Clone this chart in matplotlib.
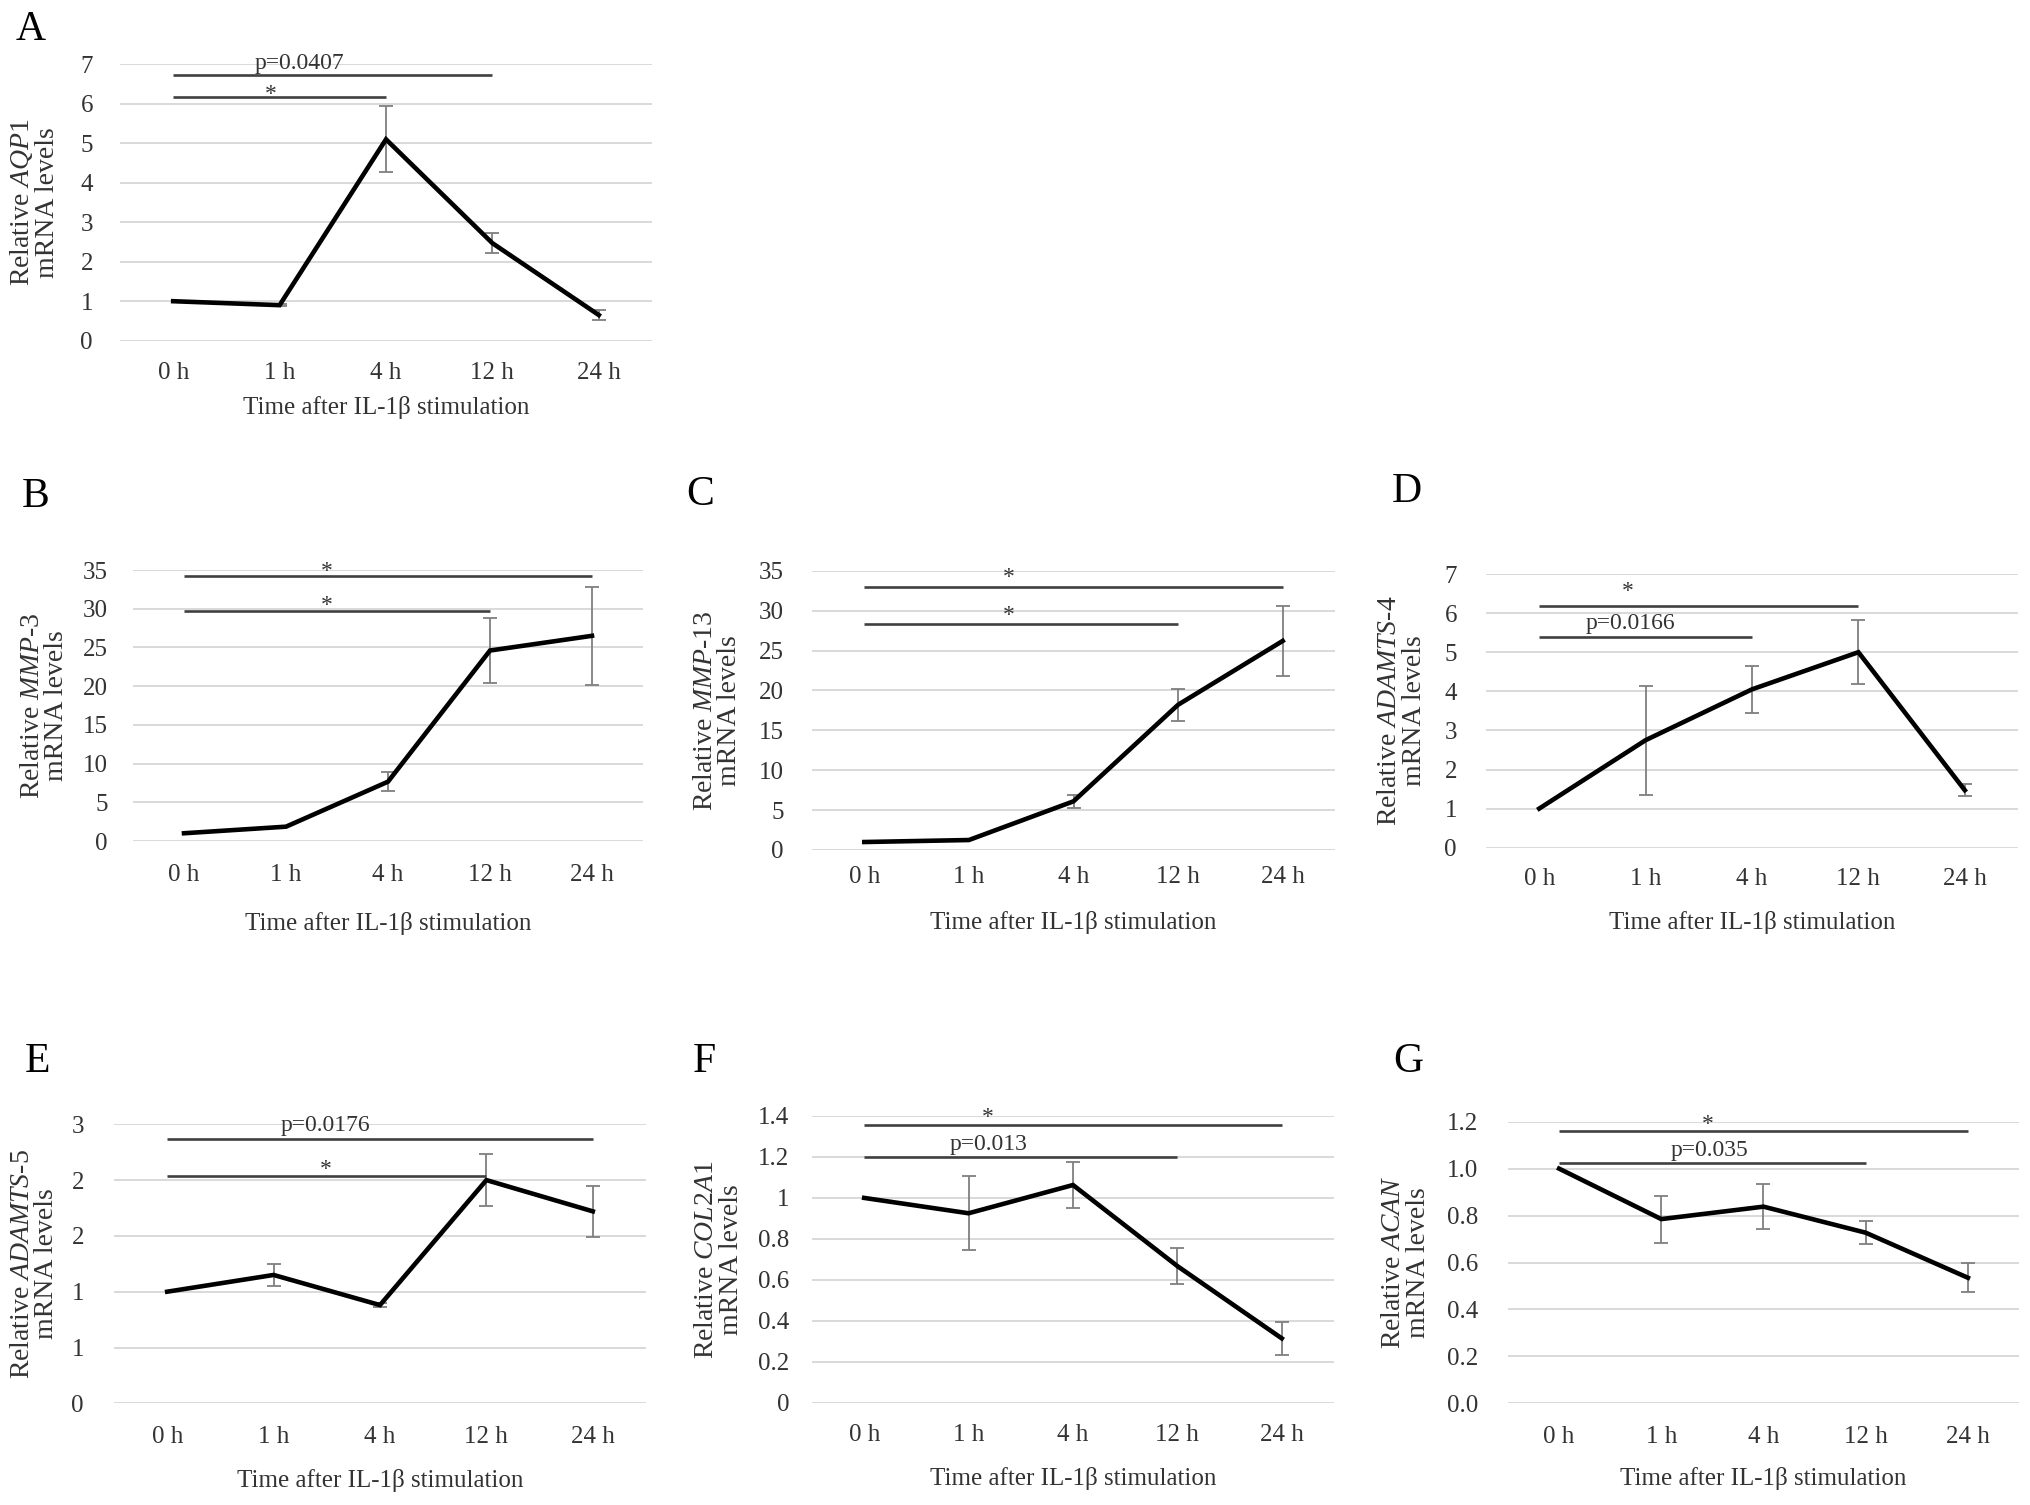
import matplotlib
matplotlib.use("Agg")
import matplotlib.pyplot as plt

plt.rcParams['font.family'] = ['Liberation Serif', 'DejaVu Serif']
plt.rcParams['mathtext.fontset'] = 'custom'
plt.rcParams['mathtext.rm'] = 'Liberation Serif'
plt.rcParams['mathtext.it'] = 'Liberation Serif:italic'

# ---- data ----
times = ['0 h', '1 h', '4 h', '12 h', '24 h']

aqp1_mean = [1.0, 0.90, 5.10, 2.47, 0.65]
aqp1_err = [0, 0.03, 0.84, 0.25, 0.12]

mmp3_mean = [1.0, 1.85, 7.66, 24.6, 26.5]
mmp3_err = [0, 0, 1.25, 4.2, 6.3]

mmp13_mean = [1.0, 1.25, 6.1, 18.2, 26.2]
mmp13_err = [0, 0, 0.8, 2.0, 4.4]

adamts4_mean = [1.0, 2.75, 4.05, 5.0, 1.47]
adamts4_err = [0, 1.39, 0.6, 0.82, 0.16]

adamts5_mean = [1.0, 1.15, 0.88, 2.0, 1.72]
adamts5_err = [0, 0.1, 0.02, 0.23, 0.23]

col2a1_mean = [1.0, 0.925, 1.063, 0.667, 0.314]
col2a1_err = [0, 0.18, 0.11, 0.086, 0.08]

acan_mean = [1.0, 0.785, 0.838, 0.727, 0.535]
acan_err = [0, 0.10, 0.095, 0.05, 0.062]

# y ticks and their printed labels (Excel-style rounding in E)
aqp1_ticks = [0, 1, 2, 3, 4, 5, 6, 7]
mmp_ticks = [0, 5, 10, 15, 20, 25, 30, 35]
adamts4_ticks = [0, 1, 2, 3, 4, 5, 6, 7]
adamts5_ticks = [0, 0.5, 1.0, 1.5, 2.0, 2.5]
adamts5_ticklabels = ['0', '1', '1', '2', '2', '3']
col2a1_ticks = [0, 0.2, 0.4, 0.6, 0.8, 1.0, 1.2, 1.4]
col2a1_ticklabels = ['0', '0.2', '0.4', '0.6', '0.8', '1', '1.2', '1.4']
acan_ticks = [0, 0.2, 0.4, 0.6, 0.8, 1.0, 1.2]
acan_ticklabels = ['0.0', '0.2', '0.4', '0.6', '0.8', '1.0', '1.2']

# significance bars: (from, to, bar height, text)
aqp1_sig = [(0, 3, 6.73, 'p=0.0407'), (0, 2, 6.16, '*')]
mmp3_sig = [(0, 4, 34.27, '*'), (0, 3, 29.75, '*')]
mmp13_sig = [(0, 4, 32.9, '*'), (0, 3, 28.3, '*')]
adamts4_sig = [(0, 3, 6.18, '*'), (0, 2, 5.40, 'p=0.0166')]
adamts5_sig = [(0, 4, 2.37, 'p=0.0176'), (0, 3, 2.04, '*')]
col2a1_sig = [(0, 4, 1.356, '*'), (0, 3, 1.201, 'p=0.013')]
acan_sig = [(0, 4, 1.162, '*'), (0, 3, 1.022, 'p=0.035')]

# where the annotation text sits (x in category units, y = glyph centre)
aqp1_txt = [(1.19, 7.07), (0.92, 6.39)]
mmp3_txt = [(1.40, 35.6), (1.40, 31.3)]
mmp13_txt = [(1.38, 34.9), (1.38, 30.2)]
adamts4_txt = [(0.83, 6.72), (0.855, 5.78)]
adamts5_txt = [(1.49, 2.51), (1.49, 2.15)]
col2a1_txt = [(1.18, 1.426), (1.19, 1.27)]
acan_txt = [(1.45, 1.217), (1.47, 1.086)]

# ---- layout (pixels of the 2031x1505 image) ----
W, H = 2031, 1505
fig = plt.figure(figsize=(W / 100, H / 100), dpi=100)

panels = [
    dict(letter='A', gene='AQP1', mean=aqp1_mean, err=aqp1_err, ticks=aqp1_ticks,
         labels=[str(t) for t in aqp1_ticks], sig=aqp1_sig, txt=aqp1_txt,
         box=(120, 652, 64.3, 340.7), ypad=27, xt=30.3, xl=65, yl=86, pos=(31, 30)),
    dict(letter='B', gene='MMP\u20103', mean=mmp3_mean, err=mmp3_err, ticks=mmp_ticks,
         labels=[str(t) for t in mmp_ticks], sig=mmp3_sig, txt=mmp3_txt,
         box=(133, 643, 570, 841), ypad=25, xt=31.7, xl=80.7, yl=88.7, pos=(36, 497)),
    dict(letter='C', gene='MMP\u201013', mean=mmp13_mean, err=mmp13_err, ticks=mmp_ticks,
         labels=[str(t) for t in mmp_ticks], sig=mmp13_sig, txt=mmp13_txt,
         box=(812, 1335, 570.7, 850), ypad=28, xt=25, xl=70, yl=94.6, pos=(700, 495)),
    dict(letter='D', gene='ADAMTS\u20104', mean=adamts4_mean, err=adamts4_err, ticks=adamts4_ticks,
         labels=[str(t) for t in adamts4_ticks], sig=adamts4_sig, txt=adamts4_txt,
         box=(1486, 2018, 574, 847.7), ypad=29, xt=29, xl=72.3, yl=84, pos=(1407, 492)),
    dict(letter='E', gene='ADAMTS\u20105', mean=adamts5_mean, err=adamts5_err, ticks=adamts5_ticks,
         labels=adamts5_ticklabels, sig=adamts5_sig, txt=adamts5_txt,
         box=(114, 646, 1124.3, 1403.3), ypad=30, xt=31.7, xl=75, yl=79.8, pos=(38, 1062)),
    dict(letter='F', gene='COL2A1', mean=col2a1_mean, err=col2a1_err, ticks=col2a1_ticks,
         labels=col2a1_ticklabels, sig=col2a1_sig, txt=col2a1_txt,
         box=(812, 1334, 1116, 1402.7), ypad=23, xt=30.7, xl=74, yl=93, pos=(704, 1062)),
    dict(letter='G', gene='ACAN', mean=acan_mean, err=acan_err, ticks=acan_ticks,
         labels=acan_ticklabels, sig=acan_sig, txt=acan_txt,
         box=(1508, 2019, 1121.7, 1403.3), ypad=30, xt=31.7, xl=73.3, yl=102, pos=(1408, 1062)),
]

TXT = '#333333'
PT = 0.72  # points per pixel at dpi 100

for p in panels:
    l, r, t, b = p['box']
    ax = fig.add_axes([l / W, 1 - b / H, (r - l) / W, (b - t) / H])
    x = list(range(len(times)))

    # error bars (only where there is one)
    ex = [i for i in x if p['err'][i] > 0]
    ax.errorbar(ex, [p['mean'][i] for i in ex], yerr=[p['err'][i] for i in ex],
                fmt='none', ecolor='#7f7f7f', elinewidth=1.3, capsize=4.8,
                capthick=1.3, zorder=2)
    ax.plot(x, p['mean'], color='black', lw=3.3, zorder=3,
            solid_joinstyle='miter')

    ax.set_xlim(-0.5, len(times) - 0.5)
    ax.set_ylim(0, p['ticks'][-1])
    ax.set_yticks(p['ticks'])
    ax.set_yticklabels(p['labels'])
    ax.set_xticks(x)
    ax.set_xticklabels(times)
    ax.yaxis.grid(True, color='#d9d9d9', lw=1.4)
    ax.set_axisbelow(True)
    for s in ax.spines.values():
        s.set_visible(False)
    ax.tick_params(axis='y', length=0, pad=p['ypad'] * PT, labelsize=18, labelcolor=TXT)
    ax.tick_params(axis='x', length=0, pad=(p['xt'] - 9) * PT, labelsize=18, labelcolor=TXT)

    hpx = b - t
    wpx = r - l
    ax.set_xlabel('Time after IL-1\u03b2 stimulation', fontsize=18, color=TXT, va='center')
    ax.xaxis.set_label_coords(0.5, -(p['xl'] + 2) / hpx)
    ax.set_ylabel('Relative $\\mathit{%s}$\nmRNA levels' % p['gene'], fontsize=20,
                  color=TXT, va='center', ha='center', linespacing=0.95)
    ax.yaxis.set_label_coords(-p['yl'] / wpx, 0.5)

    # significance bars and their text
    for (s0, s1, yb, lab), (tx, ty) in zip(p['sig'], p['txt']):
        ax.plot([s0, s1], [yb, yb], color='#404040', lw=1.9, clip_on=False,
                solid_capstyle='butt', zorder=4)
        off = -12 * PT if lab == '*' else -7.5 * PT
        ax.annotate(lab, xy=(tx, ty), xytext=(0, off), textcoords='offset points',
                    ha='center', va='baseline', fontsize=17, color=TXT,
                    annotation_clip=False)

    fig.text(p['pos'][0] / W, 1 - p['pos'][1] / H, p['letter'], fontsize=30,
             ha='center', va='center', color='black')

fig.savefig('out.png', dpi=100, facecolor='white')
